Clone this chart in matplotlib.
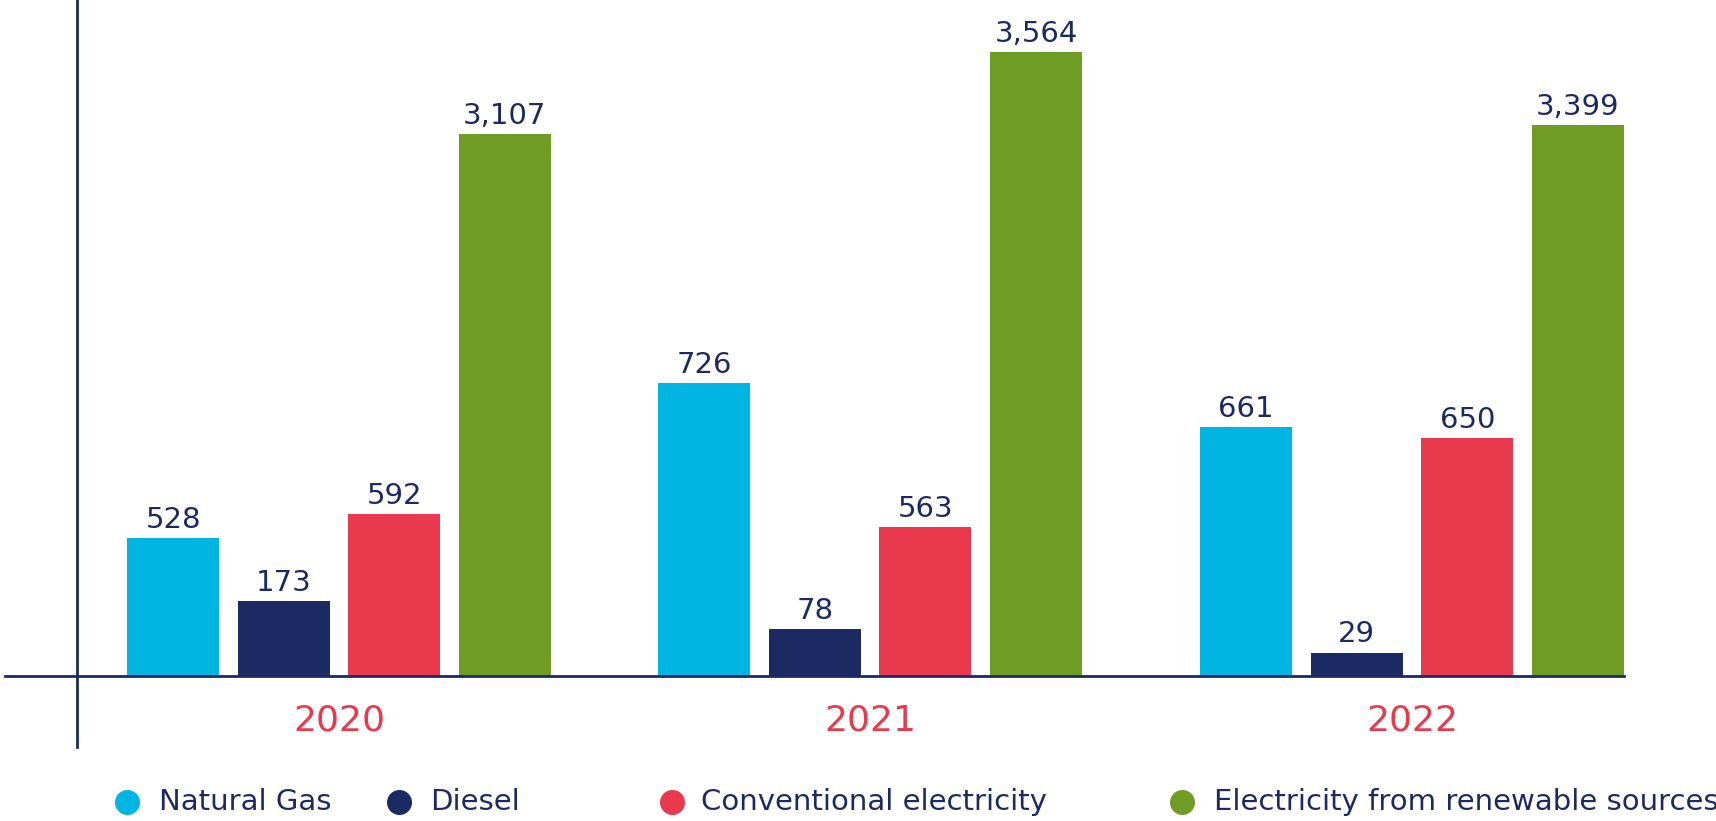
import matplotlib.pyplot as plt
import numpy as np

plt.rcParams['font.family'] = ['DejaVu Sans']

years = ['2020', '2021', '2022']
sources = ['Natural Gas', 'Diesel', 'Conventional electricity', 'Electricity from renewable sources']
colors = ['#00B5E2', '#1C2A63', '#E8394D', '#6F9C23']

# labelled values per source (one entry per year)
natural_gas = [528, 726, 661]
diesel = [173, 78, 29]
conventional = [592, 563, 650]
renewable = [3107, 3564, 3399]

# the source graphic is not drawn to scale, so bar heights are read off the picture
natural_gas_drawn = [790, 1672, 1425]
diesel_drawn = [427, 266, 134]
conventional_drawn = [925, 852, 1359]
renewable_drawn = [3098, 3564, 3151]

values = [natural_gas, diesel, conventional, renewable]
drawn = [natural_gas_drawn, diesel_drawn, conventional_drawn, renewable_drawn]

navy = '#1C2A63'
red = '#E8394D'

W, H = 1716, 821
fig = plt.figure(figsize=(W / 100, H / 100), dpi=100)
ax = fig.add_axes([5 / W, (H - 676) / H, 1619 / W, 676 / H])

x = np.array([0, 0.99, 2.0])  # group centres, middle one sits a touch left
step = 0.206
width = 0.1715
for i, (vals, hts, col) in enumerate(zip(values, drawn, colors)):
    pos = x + (i - 1.5) * step
    bars = ax.bar(pos, hts, width=width, color=col, zorder=2)
    for b, v in zip(bars, vals):
        ax.annotate(f'{v:,}', (b.get_x() + b.get_width() / 2, b.get_height()),
                    xytext=(0, 3), textcoords='offset points',
                    ha='center', va='bottom', fontsize=21, color=navy)

ax.set_xlim(-0.6226, 2.395)
ax.set_ylim(0, 3864)

for s in ['top', 'right', 'left']:
    ax.spines[s].set_visible(False)
ax.spines['bottom'].set_color(navy)
ax.spines['bottom'].set_linewidth(2)
ax.set_yticks([])
ax.set_xticks(x)
ax.set_xticklabels(years, fontsize=26, color=red)
ax.tick_params(axis='x', length=0, pad=20)

# vertical axis line, runs below the baseline
ax.axvline(-0.4884, ymin=-0.105, ymax=1, color=navy, lw=2, clip_on=False)

# legend row
marker_x = [127, 399, 672, 1182]
text_x = [159, 430, 701, 1214]
ly = (H - 802) / H
for mx, tx, lab, col in zip(marker_x, text_x, sources, colors):
    fig.lines.append(plt.Line2D([mx / W], [ly], marker='o', markersize=17, color=col,
                                linestyle='none', transform=fig.transFigure))
    fig.text(tx / W, ly, lab, fontsize=21, color=navy, va='center', ha='left')

fig.savefig('out.png', dpi=100)
